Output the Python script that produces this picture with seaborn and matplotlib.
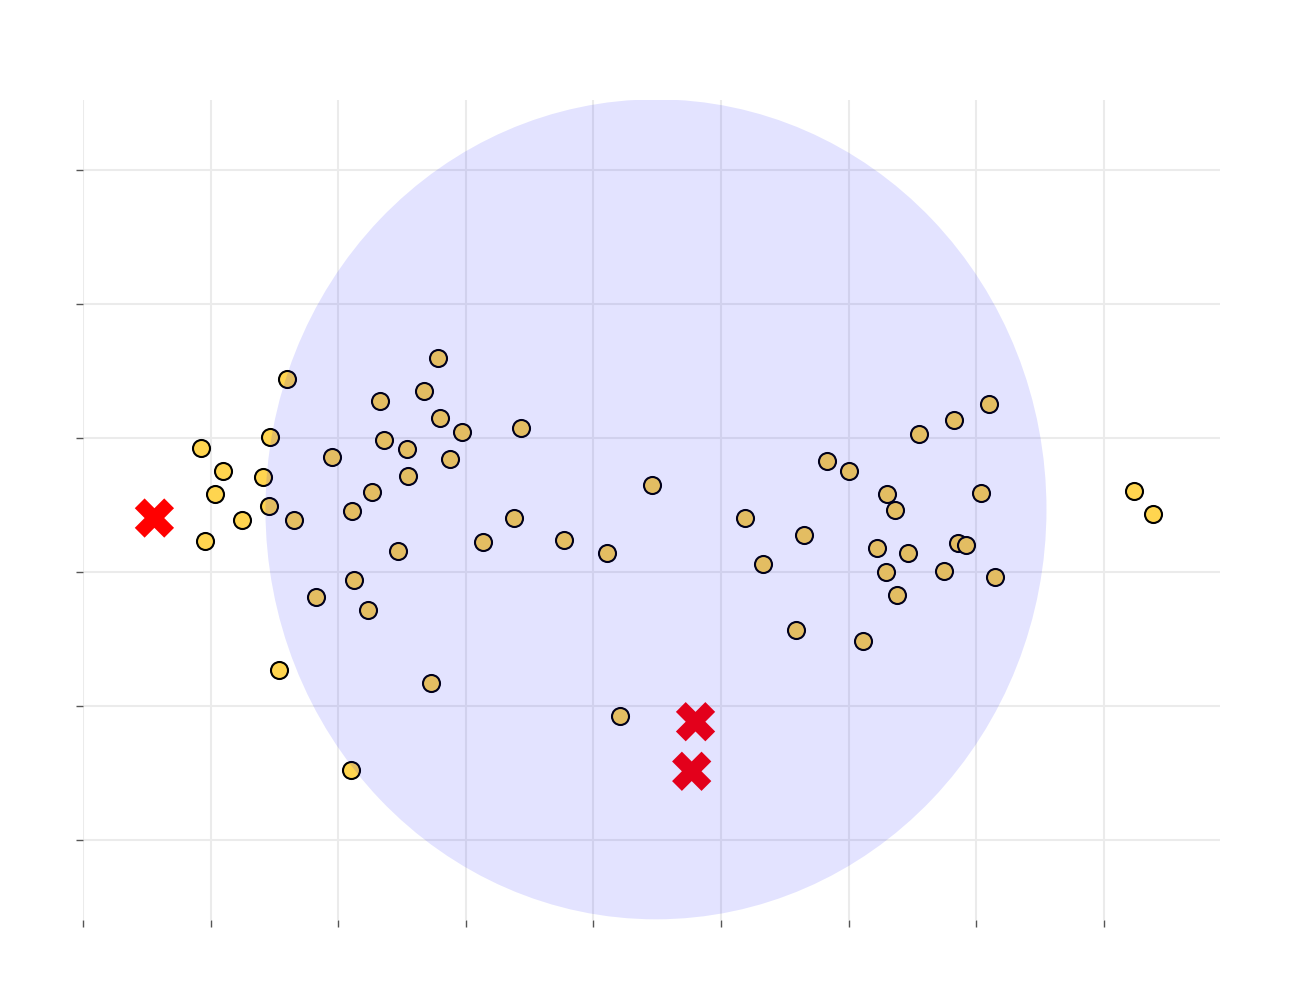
import seaborn as sns
import matplotlib.pyplot as plt
import pandas as pd
import numpy as np
from matplotlib.patches import Circle

# point positions (data units: x grid step 1, y grid step 1)
px = [201, 223, 215, 205, 242, 263, 270, 269, 287, 294, 279, 316, 332, 352, 354, 351,
      368, 372, 380, 384, 398, 407, 408, 424, 438, 440, 450, 431, 462, 483, 514, 521,
      564, 607, 620, 652, 745, 763, 796, 804, 827, 849, 863, 877, 886, 887, 895, 897,
      908, 919, 944, 954, 958, 966, 981, 989, 995, 1134, 1153]
py = [448, 471, 494, 541, 520, 477, 437, 506, 379, 520, 670, 597, 457, 511, 580, 770,
      610, 492, 401, 440, 551, 449, 476, 391, 358, 418, 459, 683, 432, 542, 518, 428,
      540, 553, 716, 485, 518, 564, 630, 535, 461, 471, 641, 548, 572, 494, 510, 595,
      553, 434, 571, 420, 543, 545, 493, 404, 577, 491, 514]
x_vals = [round((p - 83) / 127.6, 3) for p in px]
y_vals = [round((840 - p) / 134.0, 3) for p in py]

# red crosses
x_cross = [0.56, 4.80, 4.77]
y_cross = [2.40, 0.88, 0.51]

# shaded circle
circle_center = (4.49, 2.465)
circle_radius = 3.06

df = pd.DataFrame({'x': x_vals, 'y': y_vals})
df_cross = pd.DataFrame({'x': x_cross, 'y': y_cross})

sns.set_style('white')
fig = plt.figure(figsize=(13, 10), dpi=100)
ax = fig.add_axes([0.0638, 0.08, 0.8747, 0.82])

sns.scatterplot(data=df, x='x', y='y', ax=ax, s=150, color='#FFD54F',
                edgecolor='black', linewidth=1.5, zorder=3)
sns.scatterplot(data=df_cross, x='x', y='y', ax=ax, marker='X', s=800,
                color='#FF0000', edgecolor='none', linewidth=0, zorder=4)

ax.add_patch(Circle(circle_center, circle_radius, facecolor=(0, 0, 1, 0.11),
                    edgecolor='none', zorder=5))

ax.set_xlim(0, 8.91)
ax.set_ylim(-0.6, 5.52)
ax.set_xticks(range(0, 9))
ax.set_yticks(range(0, 6))
ax.grid(True, color='#EBEBEB', linewidth=1.5, zorder=0)
ax.set_axisbelow(True)
ax.tick_params(bottom=True, left=True, length=5, width=1, color='#555555',
               labelleft=False, labelbottom=False, pad=4)
for sp in ax.spines.values():
    sp.set_visible(False)
ax.set_xlabel('')
ax.set_ylabel('')

plt.savefig('out.png', dpi=100)
